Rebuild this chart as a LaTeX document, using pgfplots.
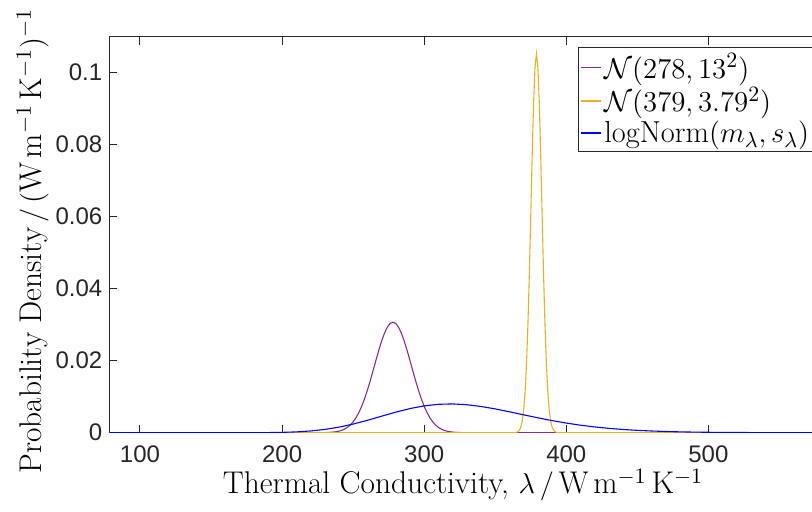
\documentclass[border=0pt]{standalone}
\usepackage{fontspec}
\usepackage{amsmath}
\usepackage{pgfplots}
\pgfplotsset{compat=1.18}
\newfontfamily\ticksfont{Liberation Sans}
\definecolor{mlpurple}{RGB}{126,47,142}
\definecolor{mlyellow}{RGB}{237,177,32}
\definecolor{mlaxis}{RGB}{38,38,38}

\begin{document}
\begin{tikzpicture}
\begin{axis}[
  scale only axis,
  width=384.8pt, height=198pt,
  xmin=78.4, xmax=620,
  ymin=0, ymax=0.11,
  xtick={100,200,300,400,500},
  ytick={0,0.02,0.04,0.06,0.08,0.1},
  yticklabels={0,0.02,0.04,0.06,0.08,0.1},
  scaled y ticks=false,
  tick align=inside,
  major tick length=4pt,
  xtick pos=both, ytick pos=left,
  axis line style={mlaxis, line width=0.5pt},
  every tick/.style={mlaxis, line width=0.5pt},
  /pgf/number format/assume math mode=true,
  tick label style={font=\ticksfont\fontsize{12}{14}\selectfont, text=mlaxis},
  xticklabel style={yshift=-3pt},
  label style={font=\fontsize{15.7}{18}\selectfont},
  xlabel={Thermal Conductivity, $\lambda\,/\,\mathrm{W\,m^{-1}\,K^{-1}}$},
  ylabel={Probability Density$\,/\,(\mathrm{W\,m^{-1}\,K^{-1}})^{-1}$},
  xlabel style={at={(rel axis cs:0.4596,0)}, anchor=center, yshift=-26pt},
  ylabel style={at={(rel axis cs:-0.1,0.484)}, anchor=center},
  legend style={at={(axis cs:408,0.1071)}, anchor=north west,
    draw=mlaxis, line width=0.5pt, fill=white,
    font=\fontsize{15.2}{18}\selectfont,
    inner xsep=1pt, inner ysep=1.5pt, row sep=0pt,
    nodes={inner sep=1.5pt}},
  legend cell align=left,
  legend image code/.code={\draw[#1, line width=0.6pt] (0pt,0pt) -- (10pt,0pt);},
  clip=true,
]
\coordinate (sw) at (rel axis cs:0,0);
% N(278, 13^2)
\addplot[draw=mlpurple, line width=0.55pt] coordinates {
(78.4,0) (200,0) (226,0.0000103) (230,0.0000336) (234,0.0000999)
(238,0.000270) (240,0.000428) (242,0.000663) (244,0.001004) (246,0.001483)
(248,0.002141) (250,0.003017) (252,0.004153) (254,0.005583) (256,0.007330)
(258,0.009397) (260,0.011767) (262,0.014389) (264,0.017184) (266,0.020042)
(268,0.022829) (270,0.025394) (272,0.027588) (274,0.029269) (276,0.030327)
(278,0.030688)
(280,0.030327) (282,0.029269) (284,0.027588) (286,0.025394) (288,0.022829)
(290,0.020042) (292,0.017184) (294,0.014389) (296,0.011767) (298,0.009397)
(300,0.007330) (302,0.005583) (304,0.004153) (306,0.003017) (308,0.002141)
(310,0.001483) (312,0.001004) (314,0.000663) (316,0.000428) (318,0.000270)
(322,0.0000999) (326,0.0000336) (330,0.0000103) (360,0) (620,0)
};
\addlegendentry{$\mathcal{N}(278,13^2)$}
% N(379, 3.79^2)
\addplot[draw=mlyellow, line width=0.55pt] coordinates {
(78.4,0) (340,0) (363,0.0000142) (365,0.000115) (366,0.000293)
(367,0.000700) (368,0.001560) (369,0.003240) (370,0.006277) (371,0.011344)
(372,0.019122) (373,0.030064) (374,0.044091) (375,0.060316) (376,0.076951)
(377,0.091581) (378,0.101661) (379,0.105262) (380,0.101661) (381,0.091581)
(382,0.076951) (383,0.060316) (384,0.044091) (385,0.030064) (386,0.019122)
(387,0.011344) (388,0.006277) (389,0.003240) (390,0.001560) (391,0.000700)
(392,0.000293) (393,0.000115) (395,0.0000142) (420,0) (620,0)
};
\addlegendentry{$\mathcal{N}(379,3.79^2)$}
% logNorm(m, s)
\addplot[draw=blue, line width=0.55pt] coordinates {
(78.4,0) (160,0) (170,0.0000023) (180,0.0000095) (190,0.000032)
(200,0.000091) (210,0.000222) (220,0.000474) (230,0.000900) (240,0.001538)
(250,0.002397) (260,0.003438) (270,0.004580) (280,0.005708) (290,0.006701)
(300,0.007451) (310,0.007890) (320,0.007990) (330,0.007772) (340,0.007286)
(350,0.006605) (360,0.005806) (370,0.004962) (380,0.004133) (390,0.003361)
(400,0.002675) (410,0.002086) (420,0.001598) (430,0.001203) (440,0.000891)
(450,0.000651) (460,0.000469) (470,0.000334) (480,0.000235) (490,0.000163)
(500,0.000113) (520,0.0000522) (540,0.0000234) (560,0.0000102) (600,0) (620,0)
};
\addlegendentry{$\mathrm{logNorm}(m_\lambda,s_\lambda)$}
\end{axis}
\pgfresetboundingbox
\path[use as bounding box] ([shift={(-54.65pt,-39.65pt)}]sw) rectangle ++(406pt,256pt);
\end{tikzpicture}
\end{document}
